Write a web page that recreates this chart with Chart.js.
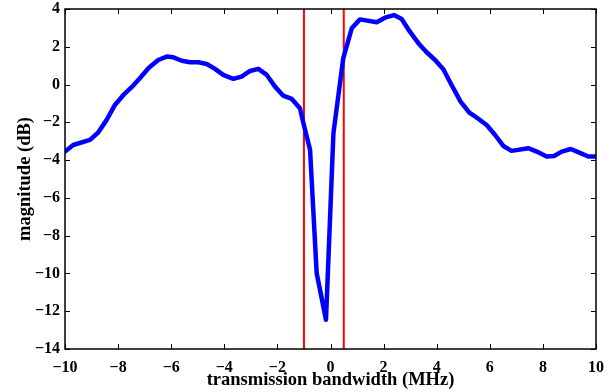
<!DOCTYPE html>
<html>
<head>
<meta charset="utf-8">
<script src="https://cdn.jsdelivr.net/npm/chart.js@4"></script>
<style>
  html, body { margin: 0; padding: 0; background: #fff; }
  #wrap { width: 616px; height: 392px; }
</style>
</head>
<body>
<div id="wrap"><canvas id="grafica" width="616" height="392"></canvas></div>
<script>
// Respuesta en magnitud vs. ancho de banda
const frecuencias = [-10, -9.69, -9.06, -8.75, -8.43, -8.12, -7.8, -7.49, -7.18, -6.86, -6.49, -6.17,
  -5.92, -5.6, -5.29, -4.98, -4.66, -4.35, -4.04, -3.66, -3.35, -3.03, -2.72, -2.4, -2.09, -1.78,
  -1.46, -1.15, -1.02, -0.77, -0.52, -0.17, 0.11, 0.48, 0.8, 1.11, 1.74, 2.05, 2.39, 2.68, 2.99,
  3.31, 3.62, 3.94, 4.25, 4.56, 4.9, 5.23, 5.54, 5.88, 6.2, 6.51, 6.82, 7.45, 7.77, 8.14, 8.42,
  8.71, 9.05, 9.33, 9.71, 10];
const magnitudes = [-3.55, -3.2, -2.93, -2.54, -1.87, -1.08, -0.55, -0.14, 0.33, 0.86, 1.3, 1.48,
  1.44, 1.26, 1.18, 1.18, 1.09, 0.83, 0.51, 0.3, 0.42, 0.72, 0.83, 0.51, -0.11, -0.59,
  -0.76, -1.25, -2.05, -3.46, -9.99, -12.45, -2.58, 1.39, 2.98, 3.45, 3.3, 3.54, 3.68, 3.47, 2.8,
  2.19, 1.71, 1.3, 0.81, -0.02, -0.9, -1.49, -1.78, -2.14, -2.67, -3.25, -3.51, -3.37, -3.55, -3.81, -3.78,
  -3.55, -3.41, -3.58, -3.81, -3.81];
const limites = [-1, 0.5];
const rangoX = [-10, 10];
const rangoY = [-14, 4];

const fuente = "'Liberation Serif', 'Times New Roman', serif";
const menos = v => String(v).replace('-', '\u2212');

// Caja y marcas hacia adentro, estilo MATLAB
const cajaMatlab = {
  id: 'cajaMatlab',
  afterDatasetsDraw(chart) {
    const ctx = chart.ctx;
    const a = chart.chartArea;
    const sx = chart.scales.x, sy = chart.scales.y;
    const L = 5;
    ctx.save();
    ctx.strokeStyle = '#000000';
    ctx.lineWidth = 1;
    ctx.beginPath();
    for (const t of sx.ticks) {
      const px = Math.round(sx.getPixelForValue(t.value)) + 0.5;
      ctx.moveTo(px, a.bottom); ctx.lineTo(px, a.bottom - L);
      ctx.moveTo(px, a.top); ctx.lineTo(px, a.top + L);
    }
    for (const t of sy.ticks) {
      const py = Math.round(sy.getPixelForValue(t.value)) + 0.5;
      ctx.moveTo(a.left, py); ctx.lineTo(a.left + L, py);
      ctx.moveTo(a.right, py); ctx.lineTo(a.right - L, py);
    }
    ctx.stroke();
    ctx.lineWidth = 1.5;
    ctx.strokeRect(a.left, a.top, a.right - a.left, a.bottom - a.top);
    ctx.restore();
  }
};

const datasets = [{
  data: frecuencias.map((f, i) => ({x: f, y: magnitudes[i]})),
  borderColor: '#0000ff',
  borderWidth: 4.5,
  borderJoinStyle: 'round',
  borderCapStyle: 'round',
  pointRadius: 0,
  tension: 0,
  showLine: true
}];
limites.forEach(l => {
  datasets.push({
    data: [{x: l, y: rangoY[0]}, {x: l, y: rangoY[1]}],
    borderColor: '#ff0000',
    borderWidth: 2,
    pointRadius: 0,
    showLine: true
  });
});

new Chart(document.getElementById('grafica').getContext('2d'), {
  type: 'scatter',
  data: { datasets: datasets },
  options: {
    responsive: false,
    animation: false,
    layout: { padding: { top: 9, right: 20, left: 0, bottom: 0 } },
    plugins: { legend: { display: false }, tooltip: { enabled: false } },
    scales: {
      x: {
        type: 'linear',
        min: rangoX[0], max: rangoX[1],
        afterFit: s => { s.height = 43; s.paddingLeft = 0; s.paddingRight = 0; },
        grid: { display: false, drawTicks: false },
        border: { display: false },
        ticks: {
          stepSize: 2,
          padding: 9,
          color: '#000',
          font: { family: fuente, size: 16, weight: 'bold' },
          maxRotation: 0,
          callback: v => menos(v)
        },
        title: {
          display: true,
          text: 'transmission bandwidth (MHz)',
          color: '#000',
          font: { family: fuente, size: 18.5, weight: 'bold' },
          padding: { top: 0, bottom: 1 }
        }
      },
      y: {
        type: 'linear',
        min: rangoY[0], max: rangoY[1],
        afterFit: s => { s.width = 65; s.paddingTop = 0; s.paddingBottom = 0; },
        grid: { display: false, drawTicks: false },
        border: { display: false },
        ticks: {
          stepSize: 2,
          padding: 5,
          color: '#000',
          font: { family: fuente, size: 16, weight: 'bold' },
          callback: v => menos(v)
        },
        title: {
          display: true,
          text: 'magnitude (dB)',
          color: '#000',
          font: { family: fuente, size: 18.5, weight: 'bold' },
          padding: { top: 14, bottom: 0 }
        }
      }
    }
  },
  plugins: [cajaMatlab]
});
</script>
</body>
</html>
